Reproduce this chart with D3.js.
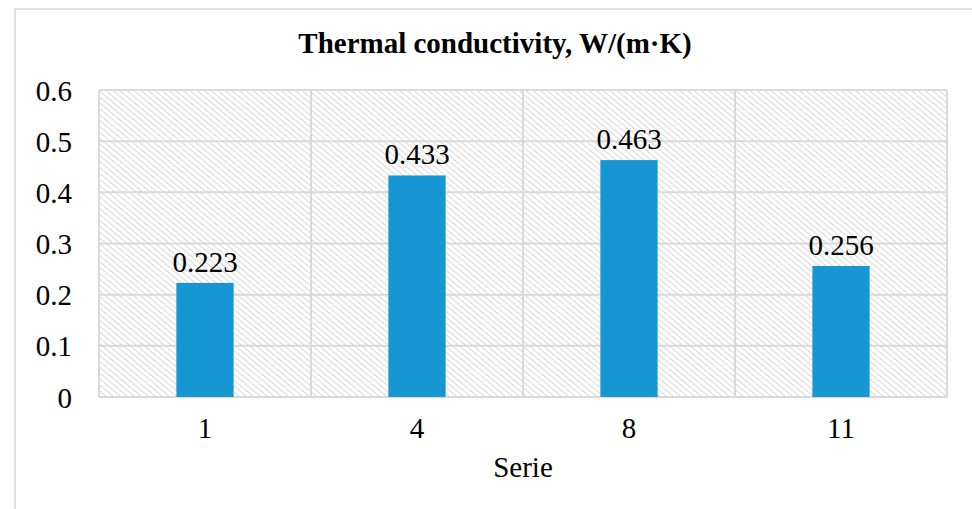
<!DOCTYPE html>
<html>
<head>
<meta charset="utf-8">
<script src="https://cdn.jsdelivr.net/npm/d3@7"></script>
<style>
  body { margin: 0; background: #fff; }
  svg text { font-family: "Liberation Serif", "DejaVu Serif", "Times New Roman", Times, serif !important; fill: #000; }
</style>
</head>
<body>
<script>
var series = ['1', '4', '8', '11']
var conductivity = [0.223, 0.433, 0.463, 0.256]
var yTicks = [0, 0.1, 0.2, 0.3, 0.4, 0.5, 0.6]

var W = 972, H = 509
var margin = {left: 99, right: 25, top: 90, bottom: 112}
var width = W - margin.left - margin.right
var height = H - margin.top - margin.bottom
var serif = '"Liberation Serif", "DejaVu Serif", "Times New Roman", serif'

var svg = d3.select('body').append('svg').attr('width', W).attr('height', H)

// hatch fill for plot background (lines run top-left to bottom-right)
var defs = svg.append('defs')
var pat = defs.append('pattern')
  .attr('id', 'hatch')
  .attr('patternUnits', 'userSpaceOnUse')
  .attr('width', 4.5).attr('height', 4.5)
  .attr('patternTransform', 'rotate(40)')
pat.append('rect').attr('width', 4.5).attr('height', 4.5).attr('fill', '#fff')
pat.append('line').attr('x1', 0).attr('y1', 0).attr('x2', 4.5).attr('y2', 0)
  .attr('stroke', '#d6d6d6').attr('stroke-width', 1.8)

// outer frame
svg.append('rect')
  .attr('x', 15).attr('y', 9).attr('width', W).attr('height', H)
  .attr('fill', 'none').attr('stroke', '#d9d9d9').attr('stroke-width', 1.5)

var x = d3.scaleBand()
  .domain(series)
  .range([0, width])
  .paddingInner(0.73)
  .paddingOuter(0.365)

var y = d3.scaleLinear()
  .domain([0, 0.6])
  .range([height, 0])

var g = svg.append('g').attr('transform', `translate(${margin.left},${margin.top})`)

g.append('rect')
  .attr('width', width).attr('height', height)
  .attr('fill', 'url(#hatch)')

// horizontal gridlines
g.append('g')
  .selectAll('line')
  .data(yTicks)
  .join('line')
  .attr('x1', 0).attr('x2', width)
  .attr('y1', d => y(d)).attr('y2', d => y(d))
  .attr('stroke', '#d9d9d9').attr('stroke-width', 2)

// vertical category separators
var step = x.step()
g.append('g')
  .selectAll('line')
  .data(d3.range(series.length + 1))
  .join('line')
  .attr('x1', i => i * step).attr('x2', i => i * step)
  .attr('y1', 0).attr('y2', height)
  .attr('stroke', '#d9d9d9').attr('stroke-width', 2)

// bars
g.selectAll('.bar')
  .data(conductivity)
  .join('rect')
  .attr('class', 'bar')
  .attr('x', (d, i) => x(series[i]))
  .attr('width', x.bandwidth())
  .attr('y', d => y(d))
  .attr('height', d => height - y(d))
  .attr('fill', '#1696d2')

// value labels
g.selectAll('.lbl')
  .data(conductivity)
  .join('text')
  .attr('class', 'lbl')
  .attr('x', (d, i) => x(series[i]) + x.bandwidth() / 2)
  .attr('y', d => y(d) - 11)
  .attr('text-anchor', 'middle')
  .style('font-family', serif)
  .style('font-size', '29px')
  .text(d => d3.format('.3f')(d))

// y axis
var yAxis = d3.axisLeft(y).tickValues(yTicks).tickSize(0).tickPadding(27)
  .tickFormat(d => d === 0 ? '0' : d3.format('.1f')(d))
g.append('g').attr('class', 'axis y').attr('font-family', null).call(yAxis)
  .call(s => s.select('.domain').remove())
  .selectAll('text').style('font-family', serif).style('font-size', '29px').attr('dy', '0.35em')

// x axis
var xAxis = d3.axisBottom(x).tickSize(0).tickPadding(20)
g.append('g').attr('class', 'axis x')
  .attr('transform', `translate(0,${height})`)
  .call(xAxis)
  .call(s => s.select('.domain').remove())
  .selectAll('text').style('font-family', serif).style('font-size', '29px')

// x title
g.append('text')
  .attr('x', width / 2).attr('y', height + 80)
  .attr('text-anchor', 'middle')
  .style('font-family', serif)
  .style('font-size', '29px')
  .text('Serie')

// chart title
svg.append('text')
  .attr('x', 495).attr('y', 53)
  .attr('text-anchor', 'middle')
  .style('font-family', serif)
  .style('font-size', '29px').style('font-weight', 'bold')
  .text('Thermal conductivity, W/(m\u00b7K)')
</script>
</body>
</html>
